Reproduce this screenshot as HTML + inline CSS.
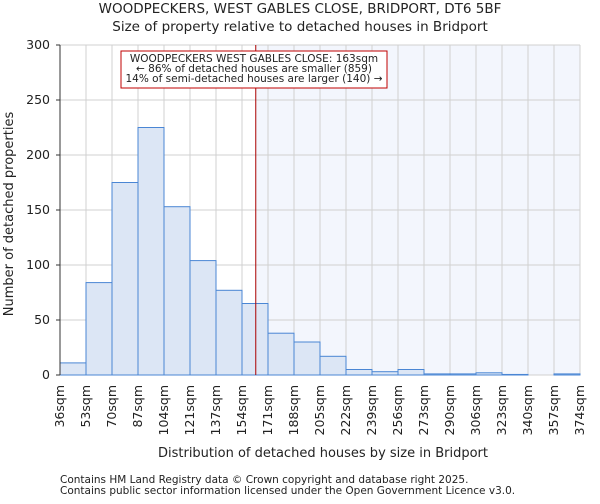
<!DOCTYPE html>
<html><head><meta charset="utf-8"><style>
body{margin:0;background:#fff;font-family:"DejaVu Sans","Liberation Sans",sans-serif;}
svg text{font-family:"DejaVu Sans","Liberation Sans",sans-serif;fill:#222;}
</style></head><body>
<svg id="chart" width="600" height="500">
<text x="300" y="13" text-anchor="middle" font-size="13.5">WOODPECKERS, WEST GABLES CLOSE, BRIDPORT, DT6 5BF</text>
<text x="300" y="31" text-anchor="middle" font-size="13.5">Size of property relative to detached houses in Bridport</text>
<g id="grid"></g><g id="bars"></g><g id="axes"></g>
<text x="323" y="457" text-anchor="middle" font-size="13">Distribution of detached houses by size in Bridport</text>
<text transform="translate(13,214) rotate(-90)" text-anchor="middle" font-size="13">Number of detached properties</text>
<text x="60" y="483" font-size="10.5">Contains HM Land Registry data © Crown copyright and database right 2025.</text>
<text x="60" y="494" font-size="10.5">Contains public sector information licensed under the Open Government Licence v3.0.</text>
</svg>
<script>
const edgeLabels=["36sqm","53sqm","70sqm","87sqm","104sqm","121sqm","137sqm","154sqm","171sqm","188sqm","205sqm","222sqm","239sqm","256sqm","273sqm","290sqm","306sqm","323sqm","340sqm","357sqm","374sqm"];
const counts=[11,84,175,225,153,104,77,65,38,30,17,5,3,5,1,1,2,0.5,0,1];
const yTicks=[0,50,100,150,200,250,300];
const markerValue=163;
const edgeValues=[36,53,70,87,104,121,137,154,171,188,205,222,239,256,273,290,306,323,340,357,374];
const X0=60,X1=580,Y0=375,Y1=45,YMAX=300;
const ns="http://www.w3.org/2000/svg";
const bw=(X1-X0)/counts.length;
const xIdx=i=>X0+i*bw;
const y=v=>Y0-(v/YMAX)*(Y0-Y1);
function xVal(v){for(let i=0;i<edgeValues.length-1;i++){if(v<=edgeValues[i+1])return xIdx(i)+(v-edgeValues[i])/(edgeValues[i+1]-edgeValues[i])*bw;}return X1;}
function mk(t,a,p){const e=document.createElementNS(ns,t);for(const k in a)e.setAttribute(k,a[k]);p.appendChild(e);return e;}
const grid=document.getElementById('grid'),bars=document.getElementById('bars'),axes=document.getElementById('axes');
const mx=xVal(markerValue);
const shade=mk('rect',{x:mx,y:Y1,width:X1-mx,height:Y0-Y1,fill:'#f3f6fd'},grid);


for(let i=0;i<=counts.length;i++){const l=mk('line',{x1:xIdx(i),x2:xIdx(i),y1:Y1,y2:Y0,stroke:'#d0d0d0'},grid);

}
yTicks.forEach(t=>{const l=mk('line',{x1:X0,x2:X1,y1:y(t),y2:y(t),stroke:'#d0d0d0'},grid);


const tx=mk('text',{x:X0-10,y:y(t)+4,'text-anchor':'end','font-size':'12.5'},axes);tx.textContent=t;


const tk=mk('line',{x1:X0-4,x2:X0,y1:y(t),y2:y(t),stroke:'#333'},axes);

});
counts.forEach((c,i)=>{if(c<=0)return;const r=mk('rect',{x:xIdx(i),y:y(c),width:bw,height:Y0-y(c),fill:'#dce6f5',stroke:'#4a86d4','stroke-width':1},bars);

});
edgeLabels.forEach((s,i)=>{const tx=mk('text',{transform:`translate(${xIdx(i)+4},385) rotate(-90)`,'text-anchor':'end','font-size':'12.5'},axes);tx.textContent=s;

});
const ml=mk('line',{x1:mx,x2:mx,y1:Y1,y2:Y0,stroke:'#aa0000','stroke-width':1},bars);


const ax=mk('path',{d:`M${X0},${Y1}V${Y0}`,stroke:'#333',fill:'none'},axes);


const g=mk('g',{},axes);


mk('rect',{x:121,y:51,width:266,height:37,fill:'#fff',stroke:'#c00000','stroke-width':1},g);
["WOODPECKERS WEST GABLES CLOSE: 163sqm","← 86% of detached houses are smaller (859)","14% of semi-detached houses are larger (140) →"].forEach((s,i)=>{const t=mk('text',{x:254,y:62+i*10,'text-anchor':'middle','font-size':'10.5'},g);t.textContent=s;

});
</script>
</body></html>
